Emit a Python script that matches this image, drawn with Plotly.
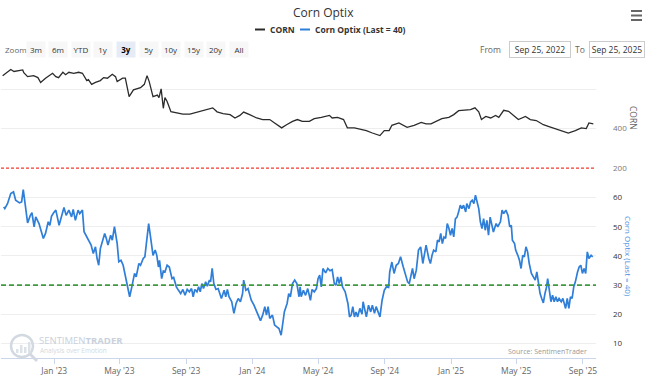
import plotly.graph_objects as go

# ---------------- data ----------------
corn_dates = [
    "2022-09-28", "2022-10-13", "2022-10-19", "2022-11-04", "2022-11-06", "2022-11-13", "2022-11-24",
    "2022-12-02", "2022-12-07", "2022-12-16", "2022-12-29", "2023-01-04", "2023-01-09", "2023-01-17",
    "2023-01-22", "2023-01-28", "2023-02-06", "2023-02-15", "2023-02-22", "2023-03-02", "2023-03-05",
    "2023-03-11", "2023-03-18", "2023-03-27", "2023-04-02", "2023-04-09", "2023-04-18", "2023-04-24",
    "2023-04-27", "2023-05-07", "2023-05-12", "2023-05-19", "2023-05-27", "2023-06-03", "2023-06-09",
    "2023-06-16", "2023-06-21", "2023-06-25", "2023-07-02", "2023-07-10", "2023-07-13", "2023-07-17",
    "2023-07-21", "2023-07-24", "2023-07-28", "2023-08-04", "2023-08-15", "2023-08-26", "2023-09-08",
    "2023-09-21", "2023-09-27", "2023-10-09", "2023-10-20", "2023-10-28", "2023-11-08", "2023-11-21",
    "2023-11-30", "2023-12-09", "2023-12-16", "2023-12-27", "2024-01-09", "2024-01-20", "2024-02-02",
    "2024-02-11", "2024-02-24", "2024-03-04", "2024-03-15", "2024-03-24", "2024-04-02", "2024-04-15",
    "2024-04-24", "2024-05-07", "2024-05-22", "2024-05-27", "2024-06-06", "2024-06-17", "2024-06-24",
    "2024-07-07", "2024-07-16", "2024-07-29", "2024-08-09", "2024-08-23", "2024-08-31", "2024-09-09",
    "2024-09-14", "2024-09-25", "2024-09-27", "2024-10-12", "2024-10-25", "2024-11-07", "2024-11-16",
    "2024-11-25", "2024-12-04", "2024-12-15", "2024-12-28", "2025-01-06", "2025-01-15", "2025-01-28",
    "2025-02-06", "2025-02-14", "2025-02-21", "2025-02-26", "2025-03-06", "2025-03-15", "2025-03-24",
    "2025-03-30", "2025-04-08", "2025-04-17", "2025-04-26", "2025-05-05", "2025-05-18", "2025-05-27",
    "2025-06-07", "2025-06-20", "2025-06-29", "2025-07-08", "2025-07-23", "2025-08-05", "2025-08-18",
    "2025-08-29", "2025-09-07", "2025-09-12", "2025-09-20",
]
corn_values = [
    668, 699, 689, 697, 683, 663, 668,
    658, 633, 655, 680, 663, 658, 685,
    673, 685, 680, 685, 680, 643, 648,
    624, 634, 643, 658, 655, 675, 663,
    638, 655, 655, 562, 596, 604, 607,
    624, 668, 638, 562, 570, 557, 601,
    503, 557, 537, 486, 478, 473, 473,
    483, 488, 496, 505, 485, 476, 471,
    454, 467, 484, 471, 454, 446, 446,
    429, 404, 420, 437, 446, 437, 437,
    451, 457, 467, 454, 457, 446, 404,
    404, 398, 390, 378, 365, 390, 390,
    417, 424, 429, 407, 417, 432, 424,
    424, 437, 451, 457, 471, 491, 493,
    496, 505, 485, 446, 462, 454, 467,
    457, 493, 488, 467, 446, 462, 446,
    441, 420, 412, 404, 390, 378, 390,
    404, 400, 429, 424,
]

optix_dates = [
    "2022-09-30", "2022-10-02", "2022-10-07", "2022-10-13", "2022-10-18", "2022-10-22", "2022-10-29",
    "2022-11-02", "2022-11-05", "2022-11-08", "2022-11-13", "2022-11-18", "2022-11-21", "2022-11-25",
    "2022-11-28", "2022-12-04", "2022-12-09", "2022-12-12", "2022-12-16", "2022-12-21", "2022-12-24",
    "2022-12-27", "2022-12-31", "2023-01-04", "2023-01-10", "2023-01-14", "2023-01-19", "2023-01-23",
    "2023-01-28", "2023-02-02", "2023-02-05", "2023-02-09", "2023-02-14", "2023-02-17", "2023-02-22",
    "2023-02-25", "2023-03-02", "2023-03-06", "2023-03-10", "2023-03-14", "2023-03-18", "2023-03-21",
    "2023-03-24", "2023-03-27", "2023-03-30", "2023-04-04", "2023-04-07", "2023-04-10", "2023-04-15",
    "2023-04-18", "2023-04-22", "2023-04-27", "2023-04-30", "2023-05-04", "2023-05-08", "2023-05-12",
    "2023-05-16", "2023-05-20", "2023-05-24", "2023-05-29", "2023-06-01", "2023-06-06", "2023-06-09",
    "2023-06-14", "2023-06-17", "2023-06-20", "2023-06-24", "2023-06-27", "2023-07-02", "2023-07-06",
    "2023-07-09", "2023-07-12", "2023-07-14", "2023-07-18", "2023-07-21", "2023-07-24", "2023-07-28",
    "2023-08-01", "2023-08-06", "2023-08-09", "2023-08-14", "2023-08-18", "2023-08-22", "2023-08-26",
    "2023-08-30", "2023-09-03", "2023-09-07", "2023-09-11", "2023-09-14", "2023-09-17", "2023-09-21",
    "2023-09-24", "2023-09-27", "2023-09-30", "2023-10-03", "2023-10-07", "2023-10-10", "2023-10-14",
    "2023-10-16", "2023-10-19", "2023-10-22", "2023-10-26", "2023-10-30", "2023-11-02", "2023-11-05",
    "2023-11-10", "2023-11-13", "2023-11-16", "2023-11-19", "2023-11-24", "2023-11-28", "2023-12-02",
    "2023-12-06", "2023-12-10", "2023-12-14", "2023-12-16", "2023-12-20", "2023-12-24", "2023-12-27",
    "2023-12-30", "2024-01-04", "2024-01-07", "2024-01-12", "2024-01-16", "2024-01-20", "2024-01-24",
    "2024-01-27", "2024-01-30", "2024-02-02", "2024-02-07", "2024-02-11", "2024-02-15", "2024-02-19",
    "2024-02-23", "2024-02-26", "2024-02-29", "2024-03-05", "2024-03-08", "2024-03-11", "2024-03-15",
    "2024-03-19", "2024-03-23", "2024-03-27", "2024-03-29", "2024-03-31", "2024-04-04", "2024-04-08",
    "2024-04-12", "2024-04-17", "2024-04-20", "2024-04-24", "2024-04-28", "2024-05-01", "2024-05-04",
    "2024-05-07", "2024-05-10", "2024-05-15", "2024-05-19", "2024-05-23", "2024-05-27", "2024-05-31",
    "2024-06-03", "2024-06-06", "2024-06-09", "2024-06-12", "2024-06-15", "2024-06-20", "2024-06-25",
    "2024-06-28", "2024-07-01", "2024-07-04", "2024-07-07", "2024-07-10", "2024-07-13", "2024-07-17",
    "2024-07-21", "2024-07-23", "2024-07-27", "2024-07-29", "2024-08-02", "2024-08-06", "2024-08-09",
    "2024-08-13", "2024-08-16", "2024-08-19", "2024-08-23", "2024-08-27", "2024-08-31", "2024-09-04",
    "2024-09-08", "2024-09-10", "2024-09-14", "2024-09-18", "2024-09-22", "2024-09-26", "2024-09-30",
    "2024-10-05", "2024-10-08", "2024-10-13", "2024-10-16", "2024-10-19", "2024-10-22", "2024-10-25",
    "2024-10-29", "2024-11-02", "2024-11-06", "2024-11-10", "2024-11-14", "2024-11-16", "2024-11-21",
    "2024-11-24", "2024-11-27", "2024-11-30", "2024-12-04", "2024-12-07", "2024-12-10", "2024-12-13",
    "2024-12-16", "2024-12-19", "2024-12-22", "2024-12-25", "2024-12-28", "2024-12-31", "2025-01-03",
    "2025-01-06", "2025-01-09", "2025-01-12", "2025-01-15", "2025-01-18", "2025-01-21", "2025-01-24",
    "2025-01-28", "2025-01-30", "2025-02-03", "2025-02-06", "2025-02-09", "2025-02-12", "2025-02-15",
    "2025-02-18", "2025-02-21", "2025-02-24", "2025-02-27", "2025-03-02", "2025-03-05", "2025-03-08",
    "2025-03-11", "2025-03-14", "2025-03-17", "2025-03-20", "2025-03-25", "2025-03-28", "2025-04-02",
    "2025-04-05", "2025-04-08", "2025-04-12", "2025-04-16", "2025-04-19", "2025-04-22", "2025-04-24",
    "2025-04-28", "2025-04-30", "2025-05-04", "2025-05-07", "2025-05-10", "2025-05-13", "2025-05-16",
    "2025-05-19", "2025-05-22", "2025-05-25", "2025-05-29", "2025-06-02", "2025-06-05", "2025-06-08",
    "2025-06-11", "2025-06-14", "2025-06-17", "2025-06-20", "2025-06-23", "2025-06-26", "2025-06-28",
    "2025-07-01", "2025-07-04", "2025-07-07", "2025-07-10", "2025-07-13", "2025-07-16", "2025-07-19",
    "2025-07-23", "2025-07-26", "2025-07-29", "2025-07-31", "2025-08-03", "2025-08-06", "2025-08-09",
    "2025-08-12", "2025-08-15", "2025-08-18", "2025-08-22", "2025-08-25", "2025-08-28", "2025-08-31",
    "2025-09-03", "2025-09-06", "2025-09-09", "2025-09-12", "2025-09-16", "2025-09-19",
]
optix_values = [
    56.8, 56.2, 57.9, 61.4, 62.0, 59.1, 58.2,
    58.5, 62.7, 58.5, 51.3, 53.9, 54.8, 50.0,
    53.4, 51.1, 47.7, 46.0, 47.7, 51.7, 50.5,
    53.6, 54.8, 55.7, 50.5, 53.4, 56.6, 53.9,
    55.7, 53.4, 55.9, 52.2, 55.7, 54.5, 55.7,
    48.3, 46.5, 44.8, 43.7, 40.8, 43.1, 39.1,
    36.8, 42.5, 44.2, 47.7, 46.0, 43.7, 47.1,
    45.4, 50.0, 44.2, 38.0, 38.5, 36.8, 33.4,
    30.5, 26.0, 29.4, 34.0, 32.8, 37.4, 36.8,
    39.1, 39.7, 44.8, 51.1, 47.1, 40.2, 42.0,
    40.2, 36.2, 38.5, 32.2, 34.8, 34.5, 36.8,
    36.2, 32.2, 32.6, 29.4, 28.2, 27.1, 28.5,
    26.5, 28.5, 27.7, 28.8, 26.0, 28.5, 27.7,
    29.4, 27.7, 30.5, 28.8, 31.1, 29.6, 31.7,
    31.1, 35.7, 30.5, 28.5, 28.8, 27.1, 25.4,
    28.2, 26.0, 28.5, 26.0, 24.3, 20.3, 23.7,
    25.4, 24.3, 27.1, 31.7, 28.2, 28.8, 26.5,
    24.8, 23.1, 21.6, 19.7, 17.8, 19.7, 22.6,
    19.7, 22.6, 18.6, 19.7, 16.3, 15.7, 15.1,
    12.8, 16.8, 20.9, 23.7, 27.1, 26.0, 30.5,
    31.7, 30.5, 26.0, 29.4, 26.0, 28.2, 26.5,
    28.8, 24.8, 28.5, 27.7, 28.8, 32.2, 33.4,
    29.4, 35.7, 34.2, 35.7, 34.9, 35.3, 30.5,
    30.0, 32.8, 30.5, 32.8, 29.4, 27.7, 23.7,
    19.1, 19.7, 22.6, 19.1, 20.8, 19.1, 22.0,
    20.0, 24.3, 21.4, 19.1, 23.1, 20.8, 23.1,
    20.3, 22.6, 20.8, 19.1, 24.8, 28.2, 29.4,
    29.2, 34.5, 37.9, 34.0, 36.8, 37.4, 39.7,
    36.2, 34.5, 31.1, 30.5, 32.8, 35.7, 32.2,
    35.1, 42.0, 43.1, 37.4, 42.0, 43.7, 39.1,
    37.4, 40.2, 42.0, 41.4, 45.4, 44.8, 47.7,
    44.2, 46.5, 46.0, 51.1, 49.5, 47.1, 49.4,
    46.5, 52.7, 53.3, 55.1, 57.4, 56.2, 57.4,
    55.1, 57.9, 56.2, 58.5, 59.1, 57.9, 60.8,
    57.9, 56.2, 51.7, 49.4, 52.8, 48.8, 52.2,
    47.1, 53.3, 50.5, 48.2, 51.1, 50.0, 51.7,
    55.7, 54.5, 55.7, 53.9, 50.0, 50.5, 45.4,
    44.2, 42.0, 40.2, 38.5, 35.7, 40.2, 39.7,
    43.1, 41.4, 37.4, 34.0, 32.8, 31.7, 34.5,
    30.5, 27.1, 25.4, 23.9, 27.1, 29.4, 32.2,
    28.2, 24.3, 26.5, 24.3, 26.0, 24.3, 25.4,
    24.3, 25.4, 23.7, 22.0, 25.4, 22.0, 26.0,
    25.4, 29.4, 31.1, 34.5, 36.2, 36.8, 34.0,
    35.7, 34.0, 41.4, 39.1, 40.2, 39.7,
]

x_tick_dates = ["2023-01-01", "2023-05-01", "2023-09-01", "2024-01-01", "2024-05-01",
                "2024-09-01", "2025-01-01", "2025-05-01", "2025-09-01"]
x_tick_labels = ["Jan '23", "May '23", "Sep '23", "Jan '24", "May '24",
                 "Sep '24", "Jan '25", "May '25", "Sep '25"]
corn_ticks = [200, 400, 600]
corn_tick_labels = ["200", "400", ""]
optix_ticks = [10, 20, 30, 40, 50, 60]
corn_threshold = 200
optix_threshold = 30
range_buttons = ["3m", "6m", "YTD", "1y", "3y", "5y", "10y", "15y", "20y", "All"]
selected_button = "3y"
date_from = "Sep 25, 2022"
date_to = "Sep 25, 2025"

# ---------------- layout helpers ----------------
W, H = 646, 376
PL, PR, PT, PB = 1, 596, 62, 358
FONT = "Open Sans, Arial, sans-serif"


def px(x):
    return (x - PL) / (PR - PL)


def py(y):
    return (PB - y) / (PB - PT)


top_dom = [py(169), 1.0]
bot_dom = [0.0, py(183)]

fig = go.Figure()
fig.add_trace(go.Scatter(x=corn_dates, y=corn_values, xaxis="x", yaxis="y", mode="lines",
                         line=dict(color="#2b2b2b", width=1.3), name="CORN"))
fig.add_trace(go.Scatter(x=optix_dates, y=optix_values, xaxis="x", yaxis="y2", mode="lines",
                         line=dict(color="#2f7ed8", width=1.7), name="Corn Optix (Last = 40)"))

shapes = []
annotations = []

# threshold lines
shapes.append(dict(type="line", xref="paper", x0=0, x1=1, yref="y", y0=corn_threshold, y1=corn_threshold,
                   line=dict(color="#f03a2e", width=1.2, dash="3px,2px")))
shapes.append(dict(type="line", xref="paper", x0=0, x1=1, yref="y2", y0=optix_threshold, y1=optix_threshold,
                   line=dict(color="#3f9a3f", width=1.6, dash="5px,3px")))

# title
annotations.append(dict(text="Corn Optix", xref="paper", yref="paper", x=px(323), y=py(12),
                        showarrow=False, font=dict(size=12, color="#333333", family=FONT),
                        xanchor="center", yanchor="middle"))
# legend
shapes.append(dict(type="line", xref="paper", yref="paper", x0=px(255), x1=px(265), y0=py(29.5), y1=py(29.5),
                   line=dict(color="#2b2b2b", width=2)))
annotations.append(dict(text="<b>CORN</b>", xref="paper", yref="paper", x=px(268), y=py(29.5),
                        showarrow=False, font=dict(size=8.5, color="#333333", family=FONT),
                        xanchor="left", yanchor="middle"))
shapes.append(dict(type="line", xref="paper", yref="paper", x0=px(300), x1=px(310), y0=py(29.5), y1=py(29.5),
                   line=dict(color="#2f7ed8", width=2)))
annotations.append(dict(text="<b>Corn Optix (Last = 40)</b>", xref="paper", yref="paper", x=px(313), y=py(29.5),
                        showarrow=False, font=dict(size=8.5, color="#333333", family=FONT),
                        xanchor="left", yanchor="middle"))

# range selector
annotations.append(dict(text="Zoom", xref="paper", yref="paper", x=px(3), y=py(50),
                        showarrow=False, font=dict(size=8, color="#666666", family=FONT),
                        xanchor="left", yanchor="middle"))
for i, lab in enumerate(range_buttons):
    cx = 35.5 + i * 22.6
    sel = lab == selected_button
    annotations.append(dict(text=("<b>%s</b>" % lab) if sel else lab, xref="paper", yref="paper",
                            x=px(cx), y=py(50), showarrow=False, width=16, height=13,
                            bgcolor="#e6ebf5" if sel else "#f7f7f7", borderpad=1,
                            font=dict(size=8, color="#000000" if sel else "#333333", family=FONT),
                            xanchor="center", yanchor="middle"))

annotations.append(dict(text="From", xref="paper", yref="paper", x=px(503), y=py(50),
                        showarrow=False, font=dict(size=8.5, color="#666666", family=FONT),
                        xanchor="right", yanchor="middle"))
annotations.append(dict(text=date_from, xref="paper", yref="paper", x=px(539.5), y=py(50),
                        showarrow=False, width=58, height=13, bordercolor="#cccccc", borderwidth=1,
                        bgcolor="#ffffff", font=dict(size=8.5, color="#333333", family=FONT),
                        xanchor="center", yanchor="middle"))
annotations.append(dict(text="To", xref="paper", yref="paper", x=px(580), y=py(50),
                        showarrow=False, font=dict(size=8.5, color="#666666", family=FONT),
                        xanchor="center", yanchor="middle"))
annotations.append(dict(text=date_to, xref="paper", yref="paper", x=px(616.5), y=py(50),
                        showarrow=False, width=52, height=13, bordercolor="#cccccc", borderwidth=1,
                        bgcolor="#ffffff", font=dict(size=8.5, color="#333333", family=FONT),
                        xanchor="center", yanchor="middle"))

# hamburger menu
for yy in (11, 15.5, 20):
    shapes.append(dict(type="line", xref="paper", yref="paper", x0=px(631), x1=px(642), y0=py(yy), y1=py(yy),
                       line=dict(color="#666666", width=2)))

# axis titles (rotated, reading top to bottom)
annotations.append(dict(text="CORN", xref="paper", yref="paper", x=px(633), y=py(118),
                        showarrow=False, textangle=90, font=dict(size=8.5, color="#666666", family=FONT),
                        xanchor="center", yanchor="middle"))
annotations.append(dict(text="Corn Optix (Last = 40)", xref="paper", yref="paper", x=px(629), y=py(256),
                        showarrow=False, textangle=90, font=dict(size=8, color="#4a8fe0", family=FONT),
                        xanchor="center", yanchor="middle"))

# watermark
shapes.append(dict(type="circle", xref="paper", yref="paper", x0=px(11), x1=px(33), y0=py(335), y1=py(357),
                   line=dict(color="#d3d9e1", width=2.5)))
shapes.append(dict(type="line", xref="paper", yref="paper", x0=px(30), x1=px(37), y0=py(354), y1=py(361),
                   line=dict(color="#d3d9e1", width=3)))
for bx, btop in ((16, 349), (20, 345), (24, 347), (28, 342)):
    shapes.append(dict(type="rect", xref="paper", yref="paper", x0=px(bx), x1=px(bx + 2.5), y0=py(353), y1=py(btop),
                       line=dict(width=0), fillcolor="#dde2e9"))
annotations.append(dict(text="SENTIMEN<b>TRADER</b>", xref="paper", yref="paper", x=px(37), y=py(340),
                        showarrow=False, font=dict(size=9.5, color="#c9d1dc", family=FONT),
                        xanchor="left", yanchor="middle"))
annotations.append(dict(text="Analysis over Emotion", xref="paper", yref="paper", x=px(38), y=py(350.5),
                        showarrow=False, font=dict(size=6.5, color="#d3d9e1", family=FONT),
                        xanchor="left", yanchor="middle"))

# source
annotations.append(dict(text="Source: SentimenTrader", xref="paper", yref="paper", x=px(589), y=py(351),
                        showarrow=False, font=dict(size=7, color="#999999", family=FONT),
                        xanchor="right", yanchor="middle"))

fig.update_layout(
    width=W, height=H,
    margin=dict(l=PL, r=W - PR, t=PT, b=H - PB, pad=0),
    paper_bgcolor="#ffffff", plot_bgcolor="#ffffff",
    showlegend=False,
    font=dict(family=FONT),
    xaxis=dict(type="date", range=["2022-09-25", "2025-09-25"], anchor="y2",
               tickvals=x_tick_dates, ticktext=x_tick_labels, ticks="outside", ticklen=5,
               tickcolor="#ccd6eb", showline=True, linecolor="#ccd6eb", linewidth=1,
               showgrid=False, zeroline=False, automargin=False,
               tickfont=dict(size=8.5, color="#666666", family=FONT)),
    yaxis=dict(domain=top_dom, range=[196, 737], side="right", anchor="x",
               tickvals=corn_ticks, ticktext=corn_tick_labels, ticks="", ticklabelstandoff=16,
               showgrid=True, gridcolor="#eeeeee", zeroline=False, showline=False, automargin=False,
               tickfont=dict(size=8, color="#777777", family=FONT)),
    yaxis2=dict(domain=bot_dom, range=[5, 65], side="right", anchor="x",
                tickvals=optix_ticks, ticks="", ticklabelstandoff=16,
                showgrid=True, gridcolor="#eeeeee", zeroline=False, showline=False, automargin=False,
                tickfont=dict(size=8, color="#333333", family=FONT)),
    shapes=shapes,
    annotations=annotations,
)

fig.write_html("out.html", config={"displayModeBar": False},
               post_script="document.body.style.margin='0px';document.body.style.padding='0px';"
                           "document.body.style.overflow='hidden';")
